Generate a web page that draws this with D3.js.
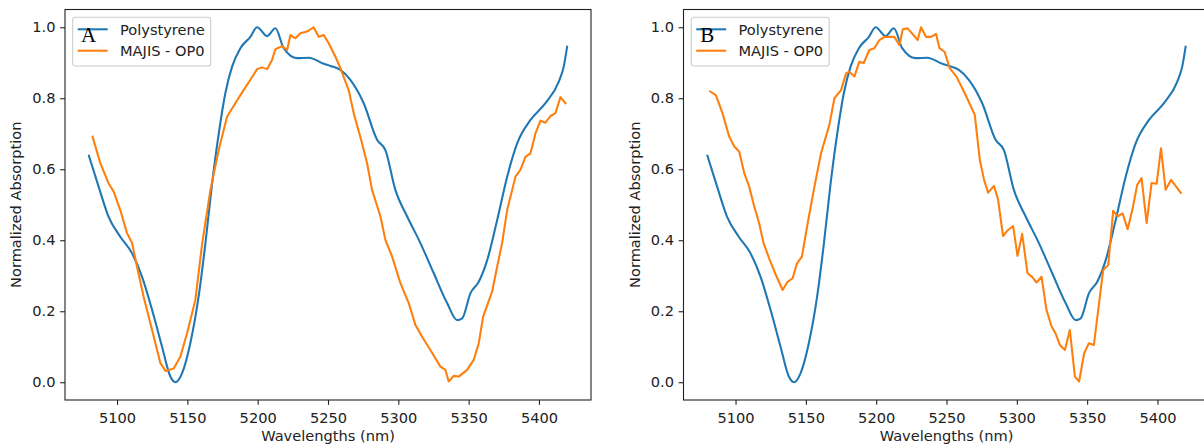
<!DOCTYPE html>
<html>
<head>
<meta charset="utf-8">
<script src="https://cdn.jsdelivr.net/npm/d3@7"></script>
<style>
  html, body { margin: 0; padding: 0; background: #fff; }
  svg { display: block; }
</style>
</head>
<body>
<svg id="chart" width="1204" height="447"></svg>
<script>
// ---- Data ----
const polyWavelengths = [5080, 5086.9, 5094, 5102.3, 5110.7, 5117.8, 5124.9, 5132, 5137.9, 5141.5, 5146.2, 5152.1, 5158, 5162.8, 5167.6, 5172.3, 5177, 5181.8, 5187.7, 5194.8, 5199.6, 5206.7, 5212.6, 5218.5, 5228, 5236.3, 5247, 5251.7, 5258.8, 5265.9, 5275.4, 5284.9, 5290.8, 5297.9, 5306.3, 5315.7, 5325.2, 5334.7, 5341.8, 5345.4, 5351.3, 5357.2, 5363.2, 5370.3, 5377.4, 5384.5, 5394, 5404.6, 5414.1, 5417.6, 5420];
const polystyrene = [0.638, 0.551, 0.466, 0.41, 0.363, 0.297, 0.204, 0.1, 0.016, 0.0, 0.025, 0.11, 0.241, 0.39, 0.56, 0.70, 0.814, 0.889, 0.941, 0.973, 1.0, 0.975, 0.997, 0.941, 0.913, 0.914, 0.897, 0.891, 0.88, 0.852, 0.786, 0.683, 0.654, 0.542, 0.467, 0.392, 0.307, 0.223, 0.175, 0.18, 0.251, 0.283, 0.344, 0.457, 0.579, 0.673, 0.739, 0.786, 0.847, 0.889, 0.945];

const majisAWavelengths = [5082.6, 5088.1, 5094, 5097.6, 5102.3, 5107.1, 5110.7, 5114.2, 5118.9, 5124.9, 5130.8, 5134.4, 5140.3, 5145, 5149.8, 5155.7, 5160.5, 5166.4, 5172.3, 5178.2, 5184.1, 5190, 5194.8, 5199.6, 5203.1, 5206.7, 5210.2, 5212.6, 5217.3, 5220.9, 5223.3, 5226.8, 5230.4, 5235.1, 5239.8, 5243.4, 5247, 5250.5, 5255.3, 5258.8, 5262.4, 5264.7, 5268.3, 5274.2, 5277.8, 5281.3, 5287.3, 5290.8, 5295.6, 5301.5, 5307.4, 5312.2, 5316.9, 5322.8, 5329.9, 5333.5, 5335.8, 5339.4, 5343, 5348.9, 5353.6, 5357.2, 5360.3, 5366.7, 5370.3, 5373.8, 5377.4, 5383.3, 5386.8, 5390.4, 5394, 5397.5, 5401.1, 5404.6, 5408.2, 5411.7, 5415.3, 5418.8];
const majisA = [0.692, 0.617, 0.56, 0.537, 0.485, 0.42, 0.392, 0.326, 0.241, 0.147, 0.054, 0.032, 0.039, 0.072, 0.138, 0.232, 0.39, 0.542, 0.654, 0.748, 0.786, 0.823, 0.852, 0.882, 0.887, 0.882, 0.908, 0.938, 0.947, 0.936, 0.978, 0.969, 0.983, 0.988, 1.0, 0.973, 0.978, 0.955, 0.917, 0.885, 0.847, 0.823, 0.758, 0.673, 0.617, 0.542, 0.467, 0.401, 0.354, 0.279, 0.223, 0.161, 0.128, 0.091, 0.044, 0.035, 0.002, 0.018, 0.016, 0.035, 0.063, 0.11, 0.185, 0.255, 0.326, 0.392, 0.485, 0.579, 0.598, 0.635, 0.645, 0.701, 0.737, 0.731, 0.75, 0.758, 0.803, 0.786];

const majisBWavelengths = [5082, 5086, 5090.7, 5095.5, 5099.1, 5102.6, 5106.2, 5109.7, 5113.3, 5116.8, 5119.9, 5123.9, 5128.7, 5133.5, 5137, 5140.6, 5143.7, 5147.2, 5151.3, 5156.1, 5160.8, 5166.7, 5170.3, 5175, 5178.6, 5180.9, 5184.5, 5188, 5191.1, 5195.1, 5198.7, 5202.3, 5205.8, 5212.9, 5216.5, 5218.9, 5222.4, 5229.5, 5231.9, 5235.4, 5239, 5242.6, 5245, 5248.6, 5252.3, 5257.1, 5263, 5270.1, 5273.7, 5276.7, 5279.6, 5283.8, 5286.7, 5290.2, 5293.8, 5297.4, 5300.5, 5303.8, 5307.6, 5310.9, 5314, 5317.6, 5321.1, 5324.7, 5327.5, 5330.6, 5334.2, 5337.7, 5341.3, 5344.3, 5347.9, 5351.2, 5354.8, 5361.4, 5365, 5368.5, 5371.7, 5375.2, 5378.8, 5382.1, 5385.6, 5388.7, 5392.3, 5395.8, 5399.4, 5402.5, 5405.8, 5409.6, 5412.9, 5416.5];
const majisB = [0.819, 0.809, 0.758, 0.692, 0.664, 0.65, 0.589, 0.551, 0.495, 0.448, 0.392, 0.349, 0.302, 0.26, 0.283, 0.293, 0.335, 0.354, 0.448, 0.551, 0.645, 0.725, 0.8, 0.823, 0.87, 0.875, 0.861, 0.903, 0.899, 0.936, 0.941, 0.964, 0.973, 0.973, 0.95, 0.994, 0.997, 0.964, 1.0, 0.973, 0.973, 0.981, 0.941, 0.931, 0.885, 0.861, 0.814, 0.753, 0.626, 0.57, 0.534, 0.553, 0.514, 0.412, 0.429, 0.44, 0.356, 0.418, 0.307, 0.297, 0.281, 0.297, 0.204, 0.157, 0.138, 0.105, 0.091, 0.147, 0.016, 0.002, 0.082, 0.11, 0.105, 0.316, 0.33, 0.483, 0.467, 0.476, 0.431, 0.485, 0.556, 0.575, 0.448, 0.561, 0.559, 0.659, 0.542, 0.57, 0.553, 0.534];

const xTicks = [5100, 5150, 5200, 5250, 5300, 5350, 5400];
const yTicks = [0.0, 0.2, 0.4, 0.6, 0.8, 1.0];
const seriesNames = ["Polystyrene", "MAJIS - OP0"];
const panelLabels = ["A", "B"];
const xLabel = "Wavelengths (nm)";
const yLabel = "Normalized Absorption";

// ---- Drawing ----
const svg = d3.select("#chart");
const colors = ["#1f77b4", "#ff7f0e"];
const textColor = "#222";
const sans = "'DejaVu Sans', sans-serif";
const fs = 14.6;
const plotTop = 9.5, plotBottom = 400, plotW = 526;
const tickLen = 4.86;

function drawPanel(left, label, orangeW, orangeV) {
  const x = d3.scaleLinear().domain([5063, 5437]).range([left, left + plotW]);
  const y = d3.scaleLinear().domain([-0.05, 1.05]).range([plotBottom, plotTop]);
  const g = svg.append("g");

  const clipId = "clip" + label;
  svg.append("clipPath").attr("id", clipId).append("rect")
    .attr("x", left).attr("y", plotTop).attr("width", plotW).attr("height", plotBottom - plotTop);

  const polyData = polyWavelengths.map((w, i) => [w, polystyrene[i]]);
  const orData = orangeW.map((w, i) => [w, orangeV[i]]);

  g.append("path").datum(polyData)
    .attr("clip-path", `url(#${clipId})`)
    .attr("fill", "none").attr("stroke", colors[0]).attr("stroke-width", 2.08)
    .attr("stroke-linejoin", "round").attr("stroke-linecap", "square")
    .attr("d", d3.line().x(d => x(d[0])).y(d => y(d[1])).curve(d3.curveMonotoneX));
  g.append("path").datum(orData)
    .attr("clip-path", `url(#${clipId})`)
    .attr("fill", "none").attr("stroke", colors[1]).attr("stroke-width", 2.08)
    .attr("stroke-linejoin", "round").attr("stroke-linecap", "square")
    .attr("d", d3.line().x(d => x(d[0])).y(d => y(d[1])));

  // axes
  const xAxis = d3.axisBottom(x).tickValues(xTicks).tickFormat(d3.format("d"))
    .tickSize(tickLen).tickSizeOuter(0).tickPadding(7.4);
  const yAxis = d3.axisLeft(y).tickValues(yTicks).tickFormat(d3.format(".1f"))
    .tickSize(tickLen).tickSizeOuter(0).tickPadding(4.6);

  const gx = g.append("g").attr("transform", `translate(0,${plotBottom})`).call(xAxis);
  const gy = g.append("g").attr("transform", `translate(${left},0)`).call(yAxis);
  [gx, gy].forEach(a => {
    a.select(".domain").remove();
    a.selectAll("line").attr("stroke", textColor).attr("stroke-width", 1.1);
    a.selectAll("text").style("font-family", sans)
      .style("font-size", fs + "px").style("fill", textColor);
  });

  // frame
  g.append("rect").attr("x", left).attr("y", plotTop).attr("width", plotW).attr("height", plotBottom - plotTop)
    .attr("fill", "none").attr("stroke", textColor).attr("stroke-width", 1.1);

  // axis labels
  g.append("text").attr("x", left + plotW / 2).attr("y", 440.5)
    .attr("text-anchor", "middle")
    .style("font-family", sans).style("font-size", fs + "px").style("fill", textColor)
    .text(xLabel);
  g.append("text")
    .attr("transform", `translate(${left - 49},${(plotTop + plotBottom) / 2}) rotate(-90)`)
    .attr("text-anchor", "middle").attr("dy", "0.35em")
    .style("font-family", sans).style("font-size", fs + "px").style("fill", textColor)
    .text(yLabel);

  // legend
  const lg = g.append("g").attr("transform", `translate(${left + 7.7},17.3)`);
  lg.append("rect").attr("width", 138).attr("height", 48.7).attr("rx", 2.8)
    .attr("fill", "#fff").attr("fill-opacity", 0.8).attr("stroke", "#cccccc").attr("stroke-width", 1.1);
  seriesNames.forEach((name, i) => {
    const yy = 12 + i * 21.4;
    lg.append("line").attr("x1", 5).attr("x2", 35).attr("y1", yy).attr("y2", yy)
      .attr("stroke", colors[i]).attr("stroke-width", 2.08);
    lg.append("text").attr("x", 47.3).attr("y", yy).attr("dy", "0.36em")
      .style("font-family", sans).style("font-size", fs + "px").style("fill", textColor)
      .text(name);
  });

  // panel letter
  g.append("text").attr("x", left + 23.7).attr("y", 42)
    .attr("text-anchor", "middle")
    .style("font-family", "'Liberation Serif', 'Times New Roman', serif")
    .style("font-size", "21px").style("fill", "#000").text(label);
}

drawPanel(65, panelLabels[0], majisAWavelengths, majisA);
drawPanel(683.5, panelLabels[1], majisBWavelengths, majisB);
</script>
</body>
</html>
